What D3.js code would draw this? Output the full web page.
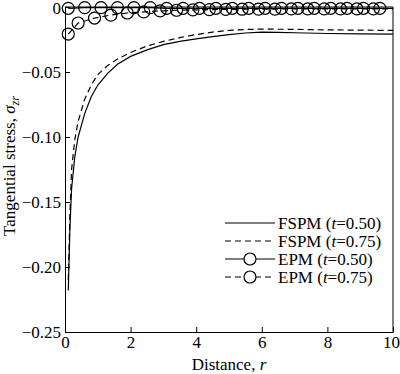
<!DOCTYPE html>
<html>
<head>
<meta charset="utf-8">
<script src="https://cdn.jsdelivr.net/npm/d3@7"></script>
<style>
  body { margin: 0; background: #fff; }
  svg text { font-family: 'Liberation Serif', 'Times New Roman', serif !important; }
</style>
</head>
<body>
<div class="graph"></div>
<script>
// FSPM curves
const fspmR = [0.1, 0.15, 0.2, 0.3, 0.4, 0.6, 0.8, 1.0, 1.3, 1.6, 2.0, 2.5, 3.0, 3.5, 4.0, 4.5, 5.0, 5.5, 6.0, 6.5, 7, 8, 9, 10];
const fspm050 = [-0.218, -0.17, -0.14, -0.115, -0.100, -0.082, -0.069, -0.060, -0.051, -0.044, -0.038, -0.033, -0.029, -0.0265, -0.0245, -0.0228, -0.0212, -0.0200, -0.0193, -0.0195, -0.0198, -0.0204, -0.0207, -0.0208];
const fspm075 = [-0.21, -0.16, -0.125, -0.102, -0.088, -0.071, -0.060, -0.052, -0.045, -0.040, -0.035, -0.030, -0.0265, -0.0235, -0.0212, -0.0193, -0.0180, -0.0173, -0.0170, -0.0171, -0.0172, -0.0176, -0.0178, -0.0180];

// EPM circles
const epm050R = [0.1, 0.6, 1.1, 1.6, 2.1, 2.6, 3.1, 3.6, 4.1, 4.6, 5.1, 5.6, 6.1, 6.6, 7.1, 7.6, 8.1, 8.6, 9.1, 9.6];
const epm050 = [-0.001, -0.0005, -0.0005, -0.0005, -0.0005, -0.0005, -0.001, -0.001, -0.001, -0.001, -0.001, -0.001, -0.001, -0.001, -0.001, -0.001, -0.001, -0.001, -0.001, -0.001];
const epm075R = [0.1, 0.4, 0.9, 1.4, 1.9, 2.4, 2.9, 3.4, 3.9, 4.4, 4.9, 5.4, 5.9, 6.4, 6.9, 7.4, 7.9, 8.4, 8.9, 9.4];
const epm075 = [-0.0208, -0.0123, -0.0085, -0.0062, -0.0046, -0.0038, -0.003, -0.0025, -0.0022, -0.002, -0.0018, -0.0017, -0.0016, -0.0016, -0.0015, -0.0015, -0.0015, -0.0015, -0.0015, -0.0015];

const xTicks = [0, 2, 4, 6, 8, 10];
const yTicks = [0, -0.05, -0.10, -0.15, -0.20, -0.25];

const FONT = "'Liberation Serif', 'Times New Roman', serif";
const FS = 17;
const svg = d3.select(".graph").append("svg").attr("width", 400).attr("height", 374)
  .attr("font-family", FONT);
const mLeft = 65, mRight = 393, mTop = 7, mBottom = 332;

const x = d3.scaleLinear().domain([0, 10]).range([mLeft, mRight]);
const y = d3.scaleLinear().domain([-0.25, 0]).range([mBottom, mTop]);

const fmtY = d => d === 0 ? "0" : "\u2212" + d3.format(".2f")(-d);

// axes with inward ticks
svg.append("g")
  .attr("transform", "translate(0," + mBottom + ")")
  .call(d3.axisBottom(x).tickValues(xTicks).tickSizeInner(-5).tickSizeOuter(0).tickPadding(4).tickFormat(d3.format("d")))
  .attr("font-family", FONT).attr("font-size", FS)
  .call(g => g.selectAll("text").attr("fill", "#000"))
  .call(g => g.selectAll("text").filter(d => d === 10).attr("dx", -2))
  .call(g => g.selectAll("line,path").attr("stroke", "#000"));

svg.append("g")
  .attr("transform", "translate(" + mLeft + ",0)")
  .call(d3.axisLeft(y).tickValues(yTicks).tickSizeInner(-5).tickSizeOuter(0).tickPadding(4).tickFormat(fmtY))
  .attr("font-family", FONT).attr("font-size", FS)
  .call(g => g.selectAll("text").attr("fill", "#000"))
  .call(g => g.selectAll("text").filter(d => d === 0).attr("y", 1.5))
  .call(g => g.selectAll("line,path").attr("stroke", "#000"));

// frame top/right
svg.append("path")
  .attr("d", "M" + mLeft + "," + mTop + "H" + mRight + "V" + mBottom)
  .attr("fill", "none").attr("stroke", "#000");

const line = d3.line().x(d => x(d[0])).y(d => y(d[1]));

svg.append("path").attr("d", line(d3.zip(fspmR, fspm050)))
  .attr("fill", "none").attr("stroke", "#000").attr("stroke-width", 1.2);
svg.append("path").attr("d", line(d3.zip(fspmR, fspm075)))
  .attr("fill", "none").attr("stroke", "#000").attr("stroke-width", 1.2).attr("stroke-dasharray", "6,4");

// EPM lines + circles
svg.append("path").attr("d", line(d3.zip(epm050R.concat([10]), epm050.concat([epm050[epm050.length - 1]]))))
  .attr("fill", "none").attr("stroke", "#000").attr("stroke-width", 1.2);
svg.append("path").attr("d", line(d3.zip(epm075R.concat([10]), epm075.concat([epm075[epm075.length - 1]]))))
  .attr("fill", "none").attr("stroke", "#000").attr("stroke-width", 1.2).attr("stroke-dasharray", "6,4");

[[epm050R, epm050], [epm075R, epm075]].forEach(([rs, vs]) => {
  svg.append("g").selectAll("circle")
    .data(d3.zip(rs, vs)).enter().append("circle")
    .attr("cx", d => x(d[0])).attr("cy", d => y(d[1])).attr("r", 6)
    .attr("fill", "none").attr("stroke", "#000").attr("stroke-width", 1.2);
});

// legend
const legend = [
  { name: "FSPM", t: "0.50", dash: null, circle: false },
  { name: "FSPM", t: "0.75", dash: "6,4", circle: false },
  { name: "EPM", t: "0.50", dash: null, circle: true },
  { name: "EPM", t: "0.75", dash: "6,4", circle: true }
];
const lg = svg.append("g");
legend.forEach((d, i) => {
  const ly = 223 + i * 18;
  lg.append("line").attr("x1", 225).attr("x2", 275).attr("y1", ly).attr("y2", ly)
    .attr("stroke", "#000").attr("stroke-width", 1.2).attr("stroke-dasharray", d.dash);
  if (d.circle) lg.append("circle").attr("cx", 250).attr("cy", ly).attr("r", 6)
    .attr("fill", "#fff").attr("stroke", "#000").attr("stroke-width", 1.2);
  const t = lg.append("text").attr("x", 278).attr("y", ly + 6).attr("font-size", FS);
  t.append("tspan").text(d.name + " (");
  t.append("tspan").attr("font-style", "italic").text("t");
  t.append("tspan").text("=" + d.t + ")");
});

// axis titles
const xt = svg.append("text").attr("x", 229).attr("y", 370).attr("text-anchor", "middle").attr("font-size", FS);
xt.append("tspan").text("Distance, ");
xt.append("tspan").attr("font-style", "italic").text("r");

const yt = svg.append("text").attr("transform", "translate(15,166) rotate(-90)").attr("text-anchor", "middle").attr("font-size", FS);
yt.append("tspan").text("Tangential stress, ");
yt.append("tspan").attr("font-style", "italic").text("\u03c3");
yt.append("tspan").attr("font-style", "italic").attr("font-size", 12).attr("dy", 4).text("zr");
</script>
</body>
</html>
